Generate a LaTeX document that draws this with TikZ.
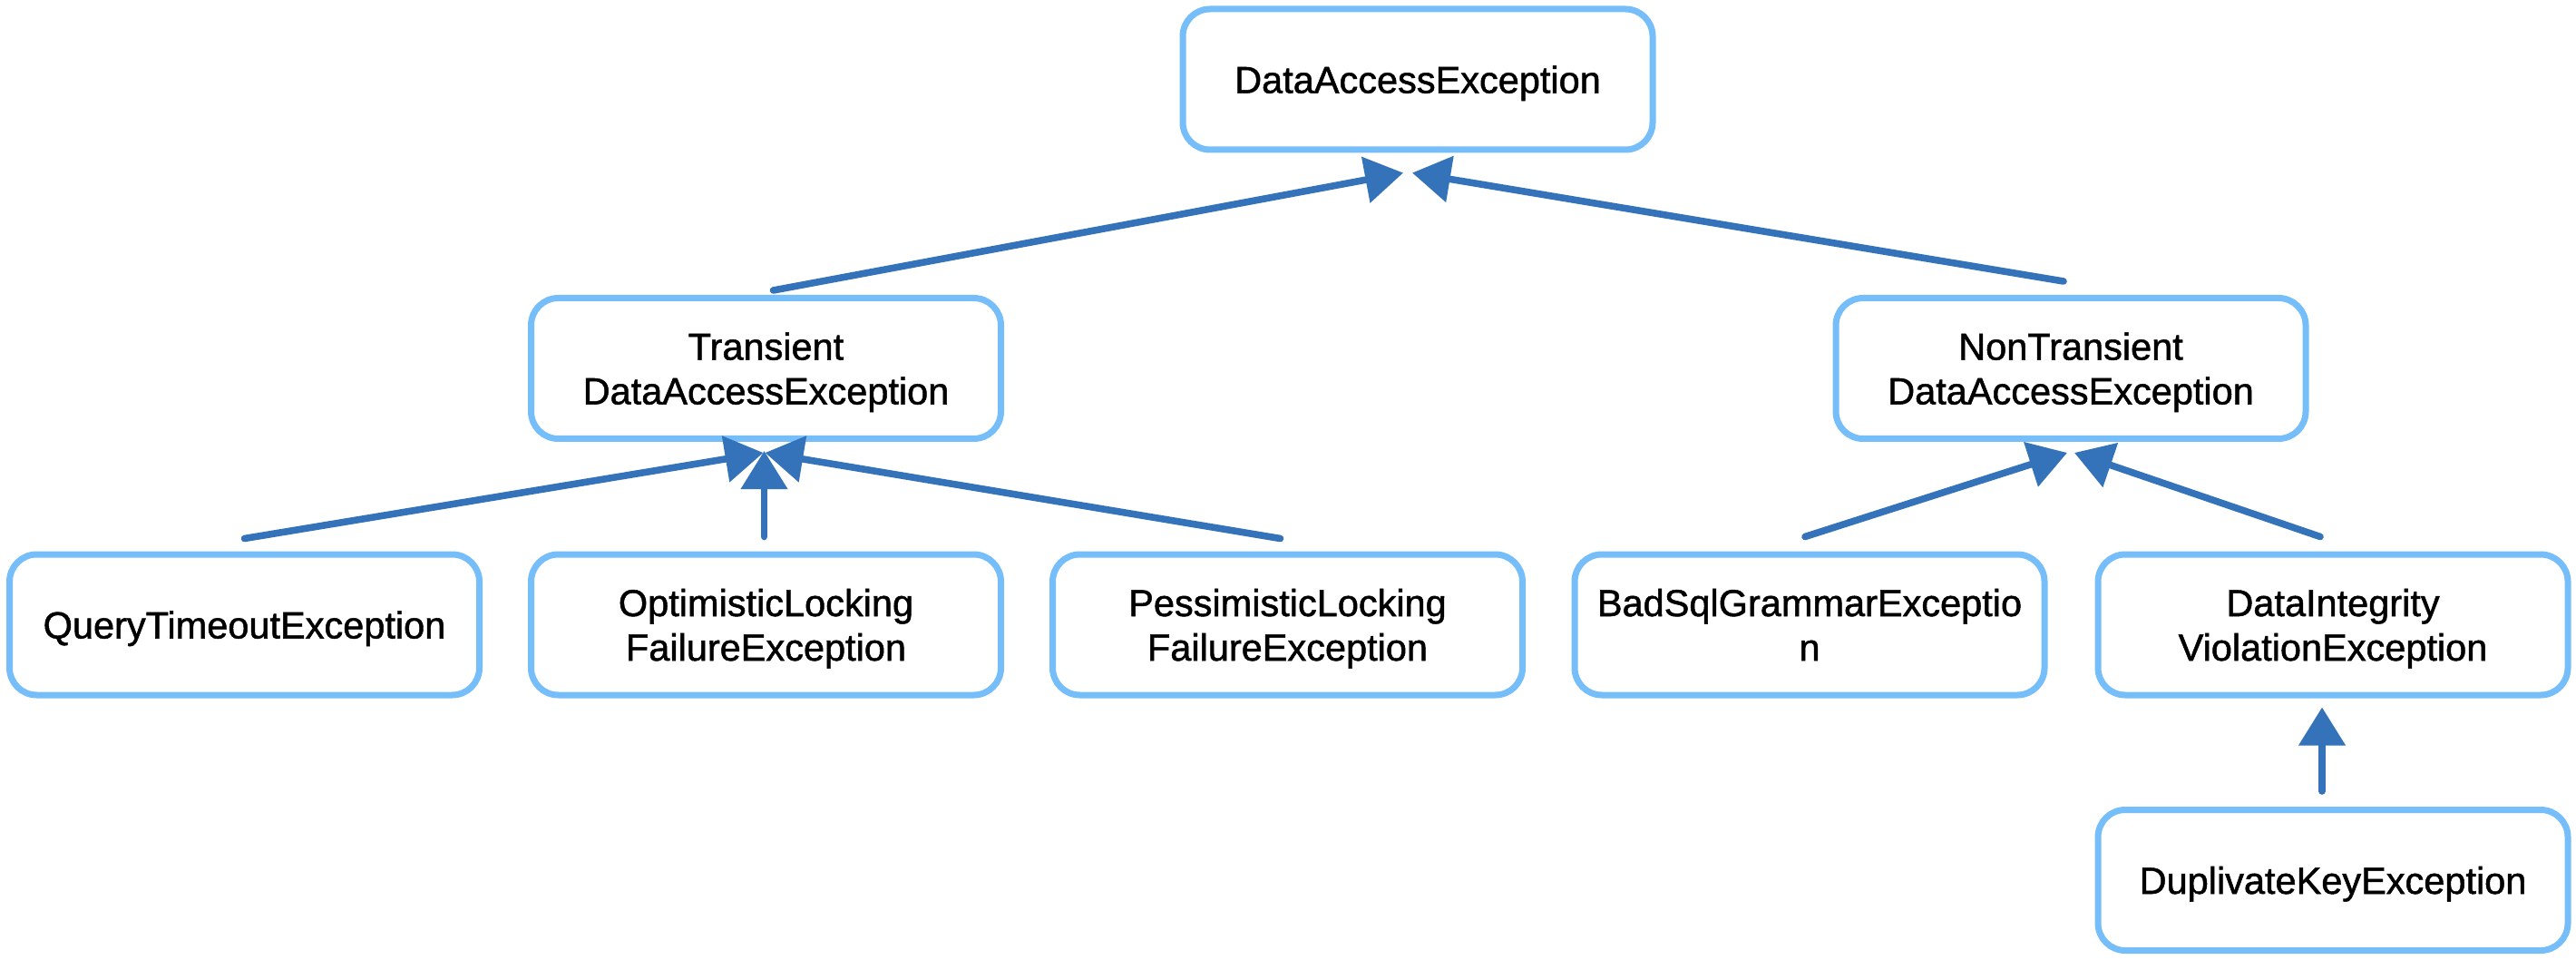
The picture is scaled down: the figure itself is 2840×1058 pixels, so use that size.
\documentclass[tikz,border=0pt]{standalone}
\usepackage{fontspec}
\setmainfont{Liberation Sans}[BoldFont=Liberation Sans, BoldFeatures={FakeBold=1.2}]
\usetikzlibrary{arrows.meta,calc}
\definecolor{boxblue}{RGB}{117,190,250}
\definecolor{arrowblue}{RGB}{52,115,185}
\tikzset{
  exbox/.style={draw=boxblue, line width=3.5pt, rounded corners=15pt,
    minimum width=259pt, minimum height=77.5pt, align=center, fill=white,
    inner sep=2pt, text depth=0pt, font=\fontsize{20.75pt}{24.5pt}\selectfont\bfseries},
  conn/.style={draw=arrowblue, line width=3.8pt, line cap=round,
    -{Triangle[length=21pt,width=25pt]}}
}
\begin{document}
\begin{tikzpicture}[x=0.5pt,y=-0.5pt]
\useasboundingbox (0,0) rectangle (2840,1058);
\node[exbox] (top) at (1563,87.5) {DataAccessException};
\node[exbox] (trans) at (844.5,406) {Transient\\DataAccessException};
\node[exbox] (nontrans) at (2283,406) {NonTransient\\DataAccessException};
\node[exbox] (query) at (269.5,688.5) {QueryTimeoutException};
\node[exbox] (opt) at (844.5,688.5) {OptimisticLocking\\FailureException};
\node[exbox] (pess) at (1419.5,688.5) {PessimisticLocking\\FailureException};
\node[exbox] (badsql) at (1995,688.5) {BadSqlGrammarExceptio\\n};
\node[exbox] (dataint) at (2572,688.5) {DataIntegrity\\ViolationException};
\node[exbox] (dup) at (2572,970) {DuplivateKeyException};

\draw[conn] ($(trans.north)+(8,-5)$) -- ($(top.south)+(-16,22)$);
\draw[conn] ($(nontrans.north)+(-8,-15)$) -- ($(top.south)+(-6,22)$);

\draw[conn] ($(query.north)+(0,-14)$) -- ($(trans.south)+(-3,12)$);
\draw[conn] ($(opt.north)+(-2,-16)$) -- ($(trans.south)+(-2,10)$);
\draw[conn] ($(pess.north)+(-8,-14)$) -- ($(trans.south)+(-1,12)$);

\draw[conn] ($(badsql.north)+(-5,-16)$) -- ($(nontrans.south)+(-4,12)$);
\draw[conn] ($(dataint.north)+(-14,-16)$) -- ($(nontrans.south)+(4,12)$);

\draw[conn] ($(dup.north)+(-12,-17)$) -- ($(dataint.south)+(-12,10)$);
\end{tikzpicture}
\end{document}
